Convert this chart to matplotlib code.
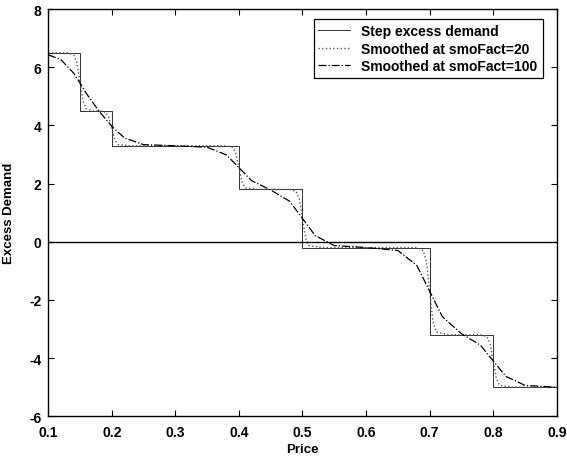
import matplotlib
matplotlib.use("Agg")
import matplotlib.pyplot as plt

# step excess demand: breakpoints and levels
step_edges = [0.10, 0.15, 0.20, 0.40, 0.50, 0.70, 0.80, 0.90]
step_levels = [6.5, 4.5, 3.3, 1.8, -0.2, -3.2, -5.0]

# smoothed curve, smoFact=20 (almost a step)
smo20_price = [0.100, 0.130, 0.140, 0.145, 0.150, 0.155, 0.160, 0.170,
               0.180, 0.190, 0.195, 0.200, 0.205, 0.210, 0.230,
               0.380, 0.390, 0.395, 0.400, 0.405, 0.410, 0.430,
               0.480, 0.490, 0.495, 0.500, 0.505, 0.510, 0.530,
               0.680, 0.690, 0.695, 0.700, 0.705, 0.710, 0.730,
               0.780, 0.790, 0.795, 0.800, 0.805, 0.810, 0.830, 0.900]
smo20_value = [6.50, 6.50, 6.43, 6.18, 5.50, 4.82, 4.57, 4.50,
               4.50, 4.46, 4.31, 3.90, 3.49, 3.34, 3.30,
               3.30, 3.25, 3.06, 2.55, 2.04, 1.85, 1.80,
               1.80, 1.73, 1.48, 0.80, 0.12, -0.13, -0.20,
               -0.20, -0.30, -0.68, -1.70, -2.72, -3.10, -3.20,
               -3.20, -3.26, -3.49, -4.10, -4.71, -4.94, -5.00, -5.00]

# smoothed curve, smoFact=100 (gradual)
smo100_price = [0.10, 0.12, 0.14, 0.15, 0.16, 0.18, 0.20, 0.22, 0.25,
                0.30, 0.35, 0.38, 0.40, 0.42, 0.45, 0.48, 0.50, 0.52,
                0.55, 0.60, 0.65, 0.68, 0.70, 0.72, 0.75, 0.78, 0.80,
                0.82, 0.85, 0.90]
smo100_value = [6.43, 6.26, 5.80, 5.46, 5.10, 4.49, 3.97, 3.57, 3.34,
                3.30, 3.25, 2.99, 2.55, 2.10, 1.78, 1.39, 0.80, 0.21,
                -0.13, -0.20, -0.30, -0.82, -1.70, -2.58, -3.16, -3.56, -4.10,
                -4.63, -4.94, -5.00]

zero_price = [0.1, 0.9]
zero_value = [0, 0]

x_ticks = [0.1, 0.2, 0.3, 0.4, 0.5, 0.6, 0.7, 0.8, 0.9]
y_ticks = [-6, -4, -2, 0, 2, 4, 6, 8]

plt.rcParams['font.family'] = ['Liberation Sans', 'DejaVu Sans']
plt.rcParams['axes.unicode_minus'] = False

fig = plt.figure(figsize=(5.67, 4.6), dpi=100)
ax = fig.add_axes([0.085, 0.093, 0.897, 0.885])

step_x = step_edges
step_y = step_levels + [step_levels[-1]]
ax.step(step_x, step_y, where='post', color='#333333', linewidth=0.7,
        linestyle='-', label='Step excess demand')
ax.plot(smo20_price, smo20_value, color='#555555', linewidth=1.0,
        linestyle=':', label='Smoothed at smoFact=20')
ax.plot(smo100_price, smo100_value, color='black', linewidth=0.9,
        linestyle='-.', label='Smoothed at smoFact=100')
ax.plot(zero_price, zero_value, color='black', linewidth=1.0)

ax.set_xlim(0.1, 0.9)
ax.set_ylim(-6, 8)
ax.set_xticks(x_ticks)
ax.set_xticklabels([f"{t:.1f}" for t in x_ticks])
ax.set_yticks(y_ticks)
ax.tick_params(direction='in', top=True, right=True, length=4, width=0.8,
               labelsize=10)
ax.tick_params(axis='x', pad=6)
ax.tick_params(axis='y', pad=5)
for lab in ax.get_xticklabels() + ax.get_yticklabels():
    lab.set_fontweight('bold')
for sp in ax.spines.values():
    sp.set_linewidth(1.0)

ax.set_xlabel("Price", fontsize=9.5, fontweight='bold', labelpad=3)
ax.set_ylabel("Excess Demand", fontsize=9.5, fontweight='bold', labelpad=10)

leg = ax.legend(loc='upper right', fontsize=10, frameon=True, fancybox=False,
                edgecolor='black', framealpha=1, borderpad=0.35,
                handlelength=2.3, handletextpad=0.8, labelspacing=0.25,
                bbox_to_anchor=(0.972, 0.975), borderaxespad=0)
leg.get_frame().set_linewidth(0.9)
for t in leg.get_texts():
    t.set_fontweight('bold')

fig.savefig("out.png", dpi=100)
